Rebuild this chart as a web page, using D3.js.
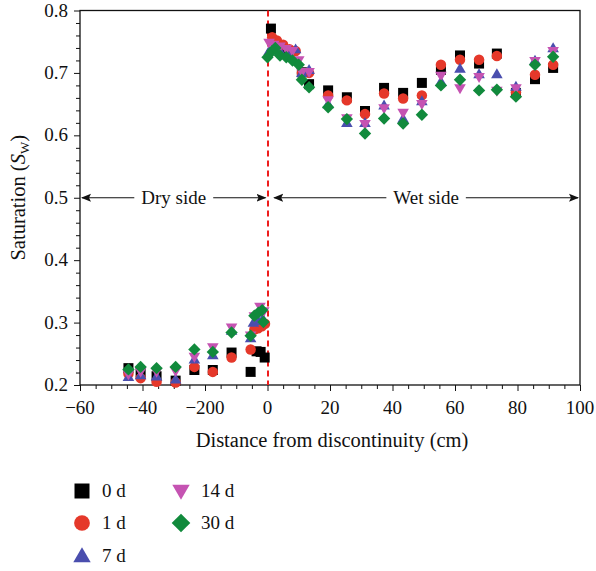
<!DOCTYPE html>
<html>
<head>
<meta charset="utf-8">
<script src="https://cdn.jsdelivr.net/npm/d3@7"></script>
<style>
  html, body { margin: 0; padding: 0; background: #fff; }
  svg text { font-family: "Liberation Serif", "DejaVu Serif", serif; fill: #111; }
</style>
</head>
<body>
<svg id="chart" width="596" height="571"></svg>
<script>
// Saturation measured at each distance from the discontinuity, one list per elapsed time
const d0 = [
  [-44.5,0.227],[-40.6,0.220],[-35.5,0.214],[-29.4,0.207],[-23.4,0.224],[-17.5,0.224],
  [-11.5,0.252],[-5.4,0.221],[-3.5,0.254],[-2.2,0.253],[-0.9,0.244],
  [1.1,0.771],[3,0.745],[6,0.735],[11,0.701],[13.3,0.682],[19.4,0.672],[25.4,0.661],
  [31.2,0.639],[37.3,0.676],[43.4,0.668],[49.4,0.684],[55.5,0.705],[61.6,0.728],
  [67.7,0.715],[73.4,0.731],[79.5,0.668],[85.6,0.690],[91.4,0.708]
];
const d1 = [
  [-44.5,0.218],[-40.6,0.211],[-35.5,0.205],[-29.4,0.204],[-23.4,0.229],[-17.5,0.221],
  [-11.5,0.244],[-5.4,0.257],[-4.2,0.289],[-3,0.291],[-1.8,0.294],[-0.8,0.298],
  [1.5,0.757],[3,0.752],[5,0.745],[7,0.738],[9,0.735],[11,0.700],[13.3,0.700],
  [19.4,0.664],[25.4,0.656],[31.2,0.634],[37.3,0.667],[43.4,0.659],[49.4,0.664],
  [55.5,0.713],[61.6,0.721],[67.7,0.721],[73.4,0.727],[79.5,0.669],[85.6,0.697],[91.4,0.713]
];
const d7 = [
  [-44.5,0.213],[-40.6,0.216],[-35.5,0.214],[-29.4,0.209],[-23.4,0.241],[-17.5,0.248],
  [-11.5,0.287],[-5.4,0.275],[-4.5,0.300],[-3,0.303],[-1.5,0.306],
  [0.5,0.735],[2,0.740],[4,0.735],[7,0.728],[9,0.738],[11,0.700],[13.3,0.705],
  [19.4,0.650],[25.4,0.620],[31.2,0.620],[37.3,0.648],[43.4,0.627],[49.4,0.655],
  [55.5,0.686],[61.6,0.707],[67.7,0.698],[73.4,0.698],[79.5,0.678],[85.6,0.720],[91.4,0.740]
];
const d14 = [
  [-44.5,0.217],[-40.6,0.221],[-35.5,0.221],[-29.4,0.222],[-23.4,0.245],[-17.5,0.260],
  [-11.5,0.292],[-5.4,0.279],[-4.2,0.310],[-2.4,0.325],[-1.2,0.318],
  [0.5,0.748],[2,0.745],[4,0.742],[6,0.738],[8,0.735],[10,0.720],[11,0.701],[13.3,0.701],
  [19.4,0.656],[25.4,0.627],[31.2,0.618],[37.3,0.643],[43.4,0.636],[49.4,0.650],
  [55.5,0.695],[61.6,0.675],[67.7,0.693],[73.4,0.671],[79.5,0.675],[85.6,0.719],[91.4,0.735]
];
const d30 = [
  [-44.5,0.225],[-40.6,0.229],[-35.5,0.227],[-29.4,0.229],[-23.4,0.257],[-17.5,0.253],
  [-11.5,0.284],[-5.4,0.279],[-4.2,0.311],[-2.9,0.316],[-1.7,0.320],[-1.3,0.301],
  [0,0.725],[1.5,0.735],[2.5,0.740],[4,0.728],[6,0.725],[8,0.720],[10,0.713],[11,0.689],[13.3,0.677],
  [19.4,0.645],[25.4,0.626],[31.2,0.603],[37.3,0.627],[43.4,0.619],[49.4,0.633],
  [55.5,0.680],[61.6,0.689],[67.7,0.672],[73.4,0.673],[79.5,0.662],[85.6,0.713],[91.4,0.726]
];

const seriesNames = ["0 d", "1 d", "7 d", "14 d", "30 d"];
const seriesData = [d0, d1, d7, d14, d30];
const seriesColors = ["#000000", "#e5382a", "#4a4eae", "#c553b2", "#118a3c"];
const seriesShapes = ["square", "circle", "triangleUp", "triangleDown", "diamond"];

const xTickValues = [-60, -40, -20, 0, 20, 40, 60, 80, 100];
const xTickLabels = ["\u221260", "\u221240", "\u2212200", "0", "20", "40", "60", "80", "100"];
const yTickValues = [0.2, 0.3, 0.4, 0.5, 0.6, 0.7, 0.8];

const svg = d3.select("#chart");
const margin = { left: 80, right: 16, top: 10.5, bottom: 186 };
const W = 596, H = 571;

const x = d3.scaleLinear().domain([-60, 100]).range([margin.left, W - margin.right]);
const y = d3.scaleLinear().domain([0.2, 0.8]).range([H - margin.bottom, margin.top]);

// Marker path generator for a given shape and size
function shapePath(shape, s) {
  const h = s / 2;
  switch (shape) {
    case "square": return `M${-h},${-h}H${h}V${h}H${-h}Z`;
    case "circle": return d3.symbol(d3.symbolCircle, Math.PI * h * h * 1.1)();
    case "triangleUp": { const t = s * 0.58; return `M0,${-t}L${t},${t * 0.72}L${-t},${t * 0.72}Z`; }
    case "triangleDown": { const t = s * 0.58; return `M0,${t}L${t},${-t * 0.72}L${-t},${-t * 0.72}Z`; }
    case "diamond": { const t = s * 0.62; return `M0,${-t}L${t},0L0,${t}L${-t},0Z`; }
  }
}

// Axes
const xAxis = d3.axisBottom(x).tickValues(d3.range(-60, 101, 5)).tickSize(5).tickFormat("");
const gx = svg.append("g").attr("transform", `translate(0,${y(0.2)})`).call(xAxis);
gx.selectAll(".tick line").attr("y2", d => (d % 20 === 0 ? 6 : 4));
const yAxis = d3.axisLeft(y).tickValues(d3.range(0, 31).map(i => 0.2 + i * 0.02)).tickSize(5).tickFormat("");
const gy = svg.append("g").attr("transform", `translate(${x(-60)},0)`).call(yAxis);
gy.selectAll(".tick line").attr("x2", (d, i) => (i % 5 === 0 ? -6 : -4));
[gx, gy].forEach(g => {
  g.select(".domain").remove();
  g.selectAll(".tick line").attr("stroke", "#111").attr("stroke-width", 1);
});

// Frame
svg.append("rect")
  .attr("x", x(-60)).attr("y", y(0.8))
  .attr("width", x(100) - x(-60)).attr("height", y(0.2) - y(0.8))
  .attr("fill", "none").attr("stroke", "#111").attr("stroke-width", 1.3);

// Tick labels
svg.append("g").selectAll("text").data(xTickValues).join("text")
  .attr("x", d => x(d)).attr("y", y(0.2) + 29)
  .attr("text-anchor", "middle").attr("font-size", 19)
  .text((d, i) => xTickLabels[i]);
svg.append("g").selectAll("text").data(yTickValues).join("text")
  .attr("x", x(-60) - 12).attr("y", d => y(d) + 6)
  .attr("text-anchor", "end").attr("font-size", 19)
  .text(d => d.toFixed(1));

// Axis titles
svg.append("text")
  .attr("x", x(20) + 2).attr("y", y(0.2) + 62)
  .attr("text-anchor", "middle").attr("font-size", 20.5)
  .text("Distance from discontinuity (cm)");
const yt = svg.append("text")
  .attr("transform", `translate(25,${y(0.5)}) rotate(-90)`)
  .attr("text-anchor", "middle").attr("font-size", 20.5);
yt.append("tspan").text("Saturation (");
yt.append("tspan").attr("font-style", "italic").text("S");
yt.append("tspan").attr("font-size", 13).attr("dy", 4).text("W");
yt.append("tspan").attr("dy", -4).text(")");

// Discontinuity line, snapped to whole pixels so the red stays saturated
const x0px = Math.round(x(0));
svg.append("line")
  .attr("x1", x0px).attr("x2", x0px).attr("y1", y(0.8)).attr("y2", y(0.2))
  .attr("stroke", "#ee1c1c").attr("stroke-width", 2).attr("stroke-dasharray", "6,4");

// Dry / wet side arrows
const defs = svg.append("defs");
defs.append("marker").attr("id", "ah").attr("viewBox", "0 0 10 10")
  .attr("refX", 9).attr("refY", 5).attr("markerWidth", 10).attr("markerHeight", 10)
  .attr("markerUnits", "userSpaceOnUse").attr("orient", "auto-start-reverse")
  .append("path").attr("d", "M0,1L10,5L0,9L2,5Z").attr("fill", "#111");

function sideArrow(x0, x1, label) {
  const g = svg.append("g");
  const yy = y(0.5);
  const cx = (x(x0) + x(x1)) / 2;
  g.append("line")
    .attr("x1", x(x0) + 2).attr("x2", x(x1) - 2).attr("y1", yy).attr("y2", yy)
    .attr("stroke", "#111").attr("stroke-width", 1.2)
    .attr("marker-start", "url(#ah)").attr("marker-end", "url(#ah)");
  const bg = g.append("rect").attr("fill", "#fff");
  const t = g.append("text").attr("x", cx).attr("y", yy + 6)
    .attr("text-anchor", "middle").attr("font-size", 19).text(label);
  const bb = t.node().getBBox();
  bg.attr("x", bb.x - 7).attr("y", bb.y).attr("width", bb.width + 14).attr("height", bb.height);
}
sideArrow(-60, 0, "Dry side");
sideArrow(1.5, 100, "Wet side");

// Data points
seriesData.forEach((data, i) => {
  svg.append("g").selectAll("path").data(data).join("path")
    .attr("transform", d => `translate(${x(d[0])},${y(d[1])})`)
    .attr("d", shapePath(seriesShapes[i], 10))
    .attr("fill", seriesColors[i]);
});

// Legend
const legendPos = [[82, 491], [82, 523], [82, 556], [181, 491], [181, 523]];
seriesNames.forEach((name, i) => {
  const [lx, ly] = legendPos[i];
  svg.append("path").attr("transform", `translate(${lx},${ly})`)
    .attr("d", shapePath(seriesShapes[i], 15)).attr("fill", seriesColors[i]);
  svg.append("text").attr("x", lx + 20).attr("y", ly + 6).attr("font-size", 19).text(name);
});
</script>
</body>
</html>
